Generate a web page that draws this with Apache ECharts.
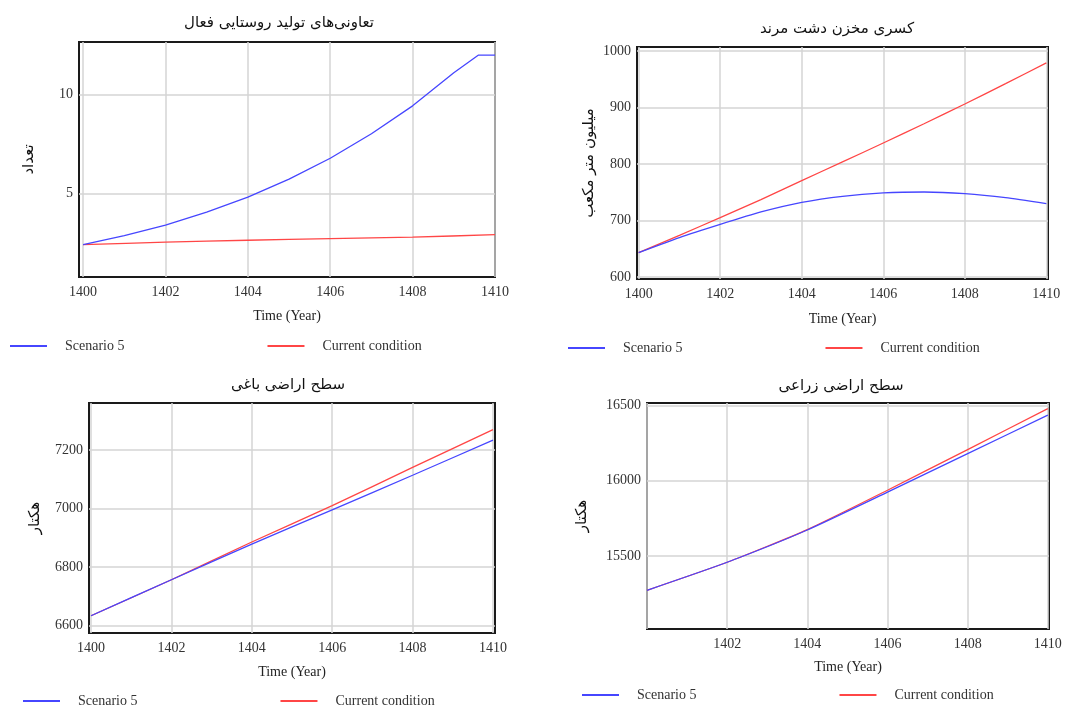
<!DOCTYPE html>
<html><head><meta charset="utf-8">
<script src="https://cdn.jsdelivr.net/npm/echarts@6/dist/echarts.min.js"></script>
<style>html,body{margin:0;padding:0;background:#fff}#c{width:1077px;height:706px}</style>
</head><body><div id="c"></div>
<script>
// ---- Data ----
const seriesNames = ['Scenario 5', 'Current condition'];
const titles = ['تعاونی‌های تولید روستایی فعال', 'کسری مخزن دشت مرند', 'سطح اراضی باغی', 'سطح اراضی زراعی'];
const yNames = ['تعداد', 'میلیون متر مکعب', 'هکتار', 'هکتار'];
const xName = 'Time (Year)';

// Chart 1
const c1BlueYears = [1400, 1401, 1402, 1403, 1404, 1405, 1406, 1407, 1408, 1409, 1409.6, 1410];
const c1Blue = [2.41, 2.86, 3.40, 4.05, 4.81, 5.72, 6.78, 8.02, 9.43, 11.1, 12.0, 12.0];
const c1RedYears = [1400, 1402, 1404, 1406, 1408, 1410];
const c1Red = [2.41, 2.53, 2.63, 2.71, 2.79, 2.91];
const c1XTicks = [1400, 1402, 1404, 1406, 1408, 1410];
const c1YTicks = [5, 10];

// Chart 2
const c2Years = [1400, 1401, 1402, 1403, 1404, 1405, 1406, 1407, 1408, 1409, 1410];
const c2Blue = [643, 669.6, 693, 715, 732, 742.8, 748.7, 750.4, 747.5, 740.4, 729.8];
const c2Red = [643, 673.7, 705, 737, 770.5, 803.5, 837, 871, 906, 942, 978.8];
const c2XTicks = [1400, 1402, 1404, 1406, 1408, 1410];
const c2YTicks = [600, 700, 800, 900, 1000];

// Chart 3
const c3Years = [1400, 1402, 1404, 1406, 1408, 1410];
const c3Blue = [6634, 6757, 6879, 6996, 7114, 7234];
const c3Red = [6634, 6757, 6886, 7010, 7141, 7270];
const c3XTicks = [1400, 1402, 1404, 1406, 1408, 1410];
const c3YTicks = [6600, 6800, 7000, 7200];

// Chart 4
const c4Years = [1400, 1402, 1404, 1406, 1408, 1410];
const c4Blue = [15272, 15458, 15672, 15923, 16179, 16434];
const c4Red = [15272, 15458, 15675, 15936, 16206, 16478];
const c4XTicks = [1400, 1402, 1404, 1406, 1408, 1410];
const c4XLabels = [1402, 1404, 1406, 1408, 1410];
const c4YTicks = [15500, 16000, 16500];

// ---- Layout / style ----
const BLUE = '#4646ff', RED = '#ff4646';
const serif = 'Liberation Serif';
const persian = 'DejaVu Sans';
const grids = [
  {left: 79, top: 42, width: 416, height: 235},
  {left: 637, top: 47, width: 411, height: 232},
  {left: 89, top: 403, width: 406, height: 230},
  {left: 647, top: 403, width: 402, height: 226}
];
const xRanges = [[1399.9, 1410], [1399.96, 1410.04], [1399.95, 1410.05], [1400, 1410.03]];
const yRanges = [[0.77, 12.66], [596.5, 1006.8], [6575, 7361], [15015, 16515]];
const xTicks = [c1XTicks, c2XTicks, c3XTicks, c4XTicks];
const xLabels = [c1XTicks, c2XTicks, c3XTicks, c4XLabels];
const yTicks = [c1YTicks, c2YTicks, c3YTicks, c4YTicks];
const titlePos = [[274, 11], [832, 17], [283, 373], [836, 374]];
const xNameGap = [32, 33, 32, 31];
const yNameGap = [42, 40, 46, 57];
const legendPos = [[10, 339], [568, 341], [23, 694], [582, 688]];
const smoothing = [[false, 0.2], [0.2, 0.2], [0.2, 0.2], [0.2, 0.2]];

const pairs = (xs, ys) => xs.map((x, i) => [x, ys[i]]);
const seriesData = [
  [pairs(c1BlueYears, c1Blue), pairs(c1RedYears, c1Red)],
  [pairs(c2Years, c2Blue), pairs(c2Years, c2Red)],
  [pairs(c3Years, c3Blue), pairs(c3Years, c3Red)],
  [pairs(c4Years, c4Blue), pairs(c4Years, c4Red)]
];
const plain = v => String(Math.round(v));

const option = {
  animation: false,
  backgroundColor: '#fff',
  title: titles.map((t, i) => ({
    text: t, left: titlePos[i][0], top: titlePos[i][1], textAlign: 'center',
    textStyle: {fontFamily: persian, fontSize: 15, fontWeight: 'normal', color: '#111'}
  })),
  legend: legendPos.map((p, i) => ({
    data: seriesNames, left: p[0], top: p[1], icon: 'rect', itemWidth: 37, itemHeight: 2,
    itemGap: 143, selectedMode: false, padding: 0,
    textStyle: {fontFamily: serif, fontSize: 14, color: '#333', padding: [0, 0, 0, 13]}
  })),
  grid: grids.map(g => Object.assign({show: true, borderColor: '#1a1a1a', borderWidth: 2, containLabel: false}, g)),
  xAxis: grids.map((g, i) => ({
    type: 'value', gridIndex: i, min: xRanges[i][0], max: xRanges[i][1],
    name: xName, nameLocation: 'middle', nameGap: xNameGap[i],
    nameTextStyle: {fontFamily: serif, fontSize: 14, color: '#222'},
    axisLine: {show: false},
    axisTick: {show: false, customValues: xTicks[i]},
    axisLabel: {customValues: xLabels[i], formatter: plain, fontFamily: serif, fontSize: 14, color: '#333', margin: 8, showMinLabel: true, showMaxLabel: true},
    splitLine: {show: true, lineStyle: {color: '#d5d5d5', width: 1.5}}
  })),
  yAxis: grids.map((g, i) => ({
    type: 'value', gridIndex: i, min: yRanges[i][0], max: yRanges[i][1],
    name: yNames[i], nameLocation: 'middle', nameGap: yNameGap[i], nameRotate: 90,
    nameTextStyle: {fontFamily: persian, fontSize: 15, color: '#111'},
    axisLine: {show: false},
    axisTick: {show: false, customValues: yTicks[i]},
    axisLabel: {customValues: yTicks[i], formatter: plain, fontFamily: serif, fontSize: 14, color: '#333', margin: 6, showMinLabel: true, showMaxLabel: true},
    splitLine: {show: true, lineStyle: {color: '#d5d5d5', width: 1.5}}
  })),
  series: []
};
seriesData.forEach((pair, i) => {
  option.series.push({
    name: seriesNames[1], type: 'line', xAxisIndex: i, yAxisIndex: i, data: pair[1],
    showSymbol: false, smooth: smoothing[i][1], color: RED, lineStyle: {width: 1.3, color: RED}
  });
  option.series.push({
    name: seriesNames[0], type: 'line', xAxisIndex: i, yAxisIndex: i, data: pair[0],
    showSymbol: false, smooth: smoothing[i][0], color: BLUE, lineStyle: {width: 1.3, color: BLUE}
  });
});
const chart = echarts.init(document.getElementById('c'), null, {renderer: 'canvas'});
chart.setOption(option);
</script>
</body></html>
